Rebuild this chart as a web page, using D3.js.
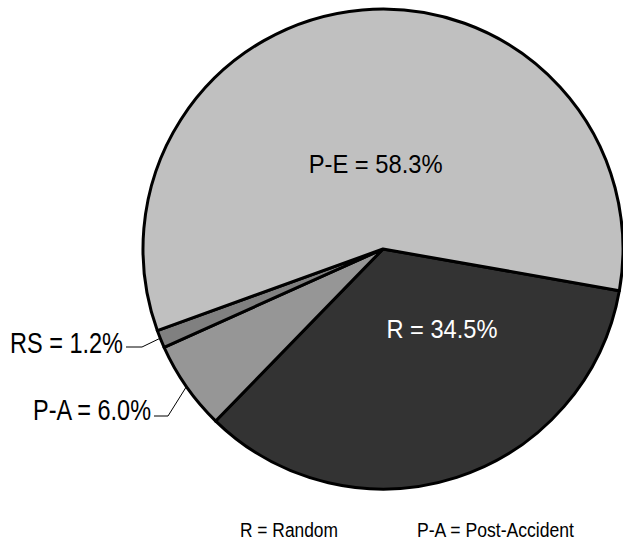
<!DOCTYPE html>
<html><head><meta charset="utf-8">
<script src="https://cdn.jsdelivr.net/npm/d3@7"></script>
<style>html,body{margin:0;padding:0;background:#fff}</style>
</head><body>
<svg id="c" width="623" height="542"></svg>
<script>
const categories = ["R", "P-A", "RS", "P-E"];
const values = [34.5, 6.0, 1.2, 58.3];
const labels = ["R = 34.5%", "P-A = 6.0%", "RS = 1.2%", "P-E = 58.3%"];
const colors = ["#333333", "#969696", "#808080", "#c0c0c0"];
const legendItems = ["R = Random", "P-A = Post-Accident"];

const svg = d3.select("#c");
const font = "'Liberation Sans Narrow', 'Arial Narrow', 'Liberation Sans', Arial, sans-serif";
const cx = 383, cy = 249, r = 240;
const startDeg = 100;
const pie = d3.pie().sort(null).value(d => d)
  .startAngle(startDeg * Math.PI / 180)
  .endAngle((startDeg + 360) * Math.PI / 180);
const arcs = pie(values);
const arc = d3.arc().innerRadius(0).outerRadius(r);
const g = svg.append("g").attr("transform", `translate(${cx},${cy})`);
g.selectAll("path").data(arcs).join("path")
  .attr("d", arc)
  .attr("fill", (d, i) => colors[i])
  .attr("stroke", "#000").attr("stroke-width", 3).attr("stroke-linejoin", "round");

function pt(a, rad) { return [Math.sin(a) * rad, -Math.cos(a) * rad]; }
function addText(x, y, t, size, w, anchor, fill) {
  svg.append("text").attr("x", x).attr("y", y).attr("text-anchor", anchor)
    .attr("fill", fill).attr("font-family", font).attr("font-size", size)
    .attr("textLength", w).attr("lengthAdjust", "spacingAndGlyphs").text(t);
}
function inside(i, frac, rad, w, fill) {
  const d = arcs[i]; const a = d.startAngle + (d.endAngle - d.startAngle) * frac;
  const p = pt(a, rad);
  addText(cx + p[0], cy + p[1] + 9, labels[i], 25, w, "middle", fill);
}
inside(0, 0.35, 99, 111, "#fff");
inside(3, 0.5, 85, 134, "#000");

function outside(i, frac, textEnd, baseline, lineY, elbowX, w) {
  const d = arcs[i]; const a = d.startAngle + (d.endAngle - d.startAngle) * frac;
  const p = pt(a, r);
  const px = cx + p[0], py = cy + p[1];
  svg.append("polyline")
    .attr("points", `${textEnd + 3},${lineY} ${elbowX},${lineY} ${px},${py}`)
    .attr("fill", "none").attr("stroke", "#000").attr("stroke-width", 1);
  addText(textEnd, baseline, labels[i], 29, w, "end", "#000");
}
outside(2, 0.55, 123, 353, 347, 142, 113);
outside(1, 0.5, 151, 420, 416, 168, 118);

const lx = [240, 417];
const lw = [98, 157];
legendItems.forEach((t, i) => addText(lx[i], 537, t, 20, lw[i], "start", "#000"));
</script>
</body></html>
